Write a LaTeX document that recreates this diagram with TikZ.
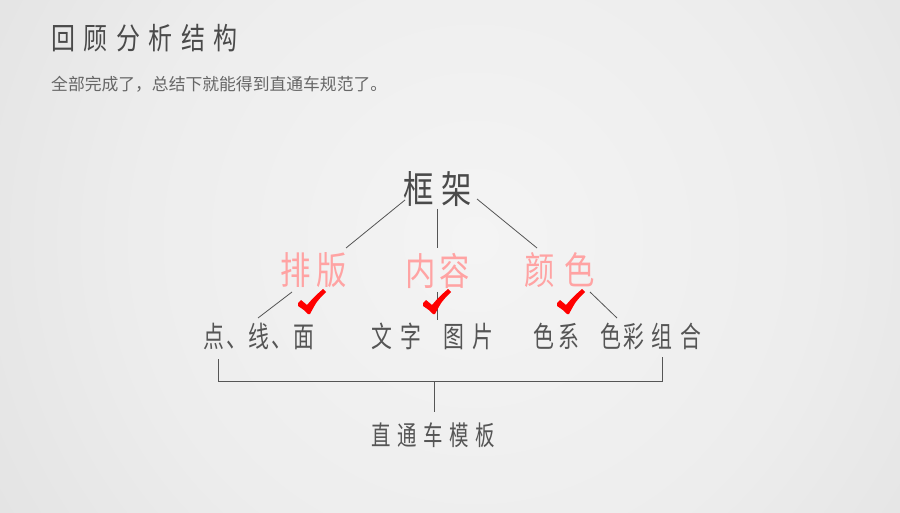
\documentclass[tikz,border=0pt]{standalone}
\usepackage{fontspec}
\newfontfamily\cjk{Noto Sans CJK SC}
\newfontfamily\cjkA[FakeStretch=0.8]{Noto Sans CJK SC}
\newfontfamily\cjkB[FakeStretch=0.72]{Noto Sans CJK SC}
\definecolor{bgA}{HTML}{F4F4F4}
\definecolor{bgB}{HTML}{EDEDED}
\definecolor{bgC}{HTML}{D9D9D9}
\definecolor{bgD}{HTML}{CFCFCF}
\definecolor{txt}{HTML}{4A4A4A}
\definecolor{subtxt}{HTML}{666666}
\definecolor{pinktxt}{HTML}{FFA3A3}
\definecolor{linec}{HTML}{555555}
\pgfdeclareradialshading{bgshade}{\pgfpoint{0bp}{0bp}}{color(0bp)=(bgA); color(15bp)=(bgB); color(36bp)=(bgC); color(50bp)=(bgD)}
\tikzset{
  lbl/.style={inner sep=0pt, anchor=center, text=txt},
  pinklbl/.style={inner sep=0pt, anchor=center, text=pinktxt, font=\cjkA\fontsize{38}{38}\selectfont},
  link/.style={draw=linec, line width=0.8pt},
  tick/.style={fill=red, draw=none}
}
\begin{document}
\begin{tikzpicture}[x=1pt, y=-1pt]
\useasboundingbox (0,0) rectangle (900,513);
\begin{scope}
  \clip (0,0) rectangle (900,513);
  \shade[shading=bgshade] (475,240) circle (560);
\end{scope}

% title and subtitle
\node[inner sep=0pt, anchor=west, text=txt] (title) at (51,38.5)
  {\cjkA\fontsize{30}{30}\selectfont 回\kern8.5pt 顾\kern8.5pt 分\kern8.5pt 析\kern8.5pt 结\kern8.5pt 构};
\node[inner sep=0pt, anchor=west, text=subtxt] (subtitle) at (51,84.5)
  {\cjk\fontsize{16.8}{16.8}\selectfont 全部完成了，总结下就能得到直通车规范了。};

% main nodes
\node[lbl, font=\cjkA\fontsize{38}{38}\selectfont] (frame) at (437.5,189.5) {框\kern8pt 架};
\node[pinklbl] (pb) at (314,270.5) {排\kern5.6pt 版};
\node[pinklbl] (nr) at (438,270.5) {内\kern3.6pt 容};
\node[pinklbl] (ys) at (560,270.5) {颜\kern9.6pt 色};

\node[lbl, text=linec, font=\cjkB\fontsize{29}{29}\selectfont] (dxm) at (259,336.5)
  {点\kern1.6pt 、\kern1.6pt 线\kern1.6pt 、\kern1.6pt 面};
\node[lbl, text=linec, font=\cjkB\fontsize{29}{29}\selectfont] (wz) at (432.5,336.5)
  {文\kern8pt 字\kern22pt 图\kern8pt 片};
\node[lbl, text=linec, font=\cjkB\fontsize{29}{29}\selectfont] (sx) at (617.5,336.5)
  {色\kern4pt 系\kern21pt 色\kern2pt 彩\kern7pt 组\kern8pt 合};
\node[lbl, text=linec, font=\cjkB\fontsize{27}{27}\selectfont] (tpl) at (433.5,435)
  {直\kern6.6pt 通\kern6.6pt 车\kern6.6pt 模\kern6.6pt 板};

% connector end points
\coordinate (f1) at (405,200);
\coordinate (f2) at (437,209);
\coordinate (f3) at (477,199);
\coordinate (p1) at (346,248);
\coordinate (p2) at (437,248);
\coordinate (p3) at (537,248);
\coordinate (q1) at (292,292);
\coordinate (q2) at (437,292);
\coordinate (q3) at (590,292);
\coordinate (r1) at (258,318);
\coordinate (r2) at (437,320);
\coordinate (r3) at (617,318);
\coordinate (bl) at (218,359);
\coordinate (blc) at (218,381);
\coordinate (brc) at (662,381);
\coordinate (br) at (662,357);
\coordinate (bm) at (434,381);
\coordinate (bt) at (434,412);

\draw[link] (f1) -- (p1);
\draw[link] (f2) -- (p2);
\draw[link] (f3) -- (p3);
\draw[link] (q1) -- (r1);
\draw[link] (q2) -- (r2);
\draw[link] (q3) -- (r3);
\draw[link] (bl) -- (blc) -- (brc) -- (br);
\draw[link] (bm) -- (bt);

% check marks
\coordinate (c1) at (309,314);
\coordinate (c2) at (434,314);
\coordinate (c3) at (568,314);
\foreach \c in {c1,c2,c3}{
  \fill[tick, shift={(\c)}] (-11,-11) .. controls (-10,-13) .. (-8,-14)
    .. controls (-5,-12) .. (-2,-9) .. controls (5,-17) .. (14,-25)
    -- (17,-22) .. controls (8,-13) .. (1,0) -- (-1,0)
    .. controls (-5,-4) .. (-11,-8) -- cycle;
}
\end{tikzpicture}
\end{document}
